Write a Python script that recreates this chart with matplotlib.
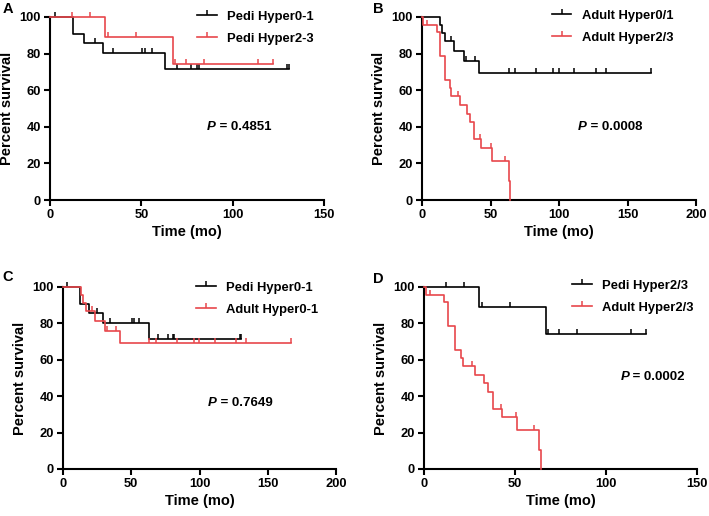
import matplotlib
matplotlib.use('Agg')
import matplotlib.pyplot as plt
from matplotlib.path import Path
from matplotlib.lines import Line2D
import numpy as np

plt.rcParams['font.family'] = ['Liberation Sans', 'DejaVu Sans']

BLACK = '#000000'
RED = '#e8474c'

# Kaplan-Meier curves (time in months, survival in %)
pedi01_t = [12.8, 18.8, 29.2, 63.0]
pedi01_s = [90.5, 85.7, 80.4, 71.5]
pedi01_cens = [2.7, 24.6, 34.7, 50.5, 52.0, 55.7, 69.3, 77.0, 80.3, 81.6, 129.6, 130.7]
pedi01_end = 130.7

pedi23_t = [30.2, 67.3]
pedi23_s = [88.9, 74.1]
pedi23_cens = [12.2, 21.8, 32.0, 47.2, 68.2, 74.2, 84.1, 114.0, 122.0]
pedi23_end = 122.0

adult01_t = [13.2, 14.8, 16.8, 23.6, 30.8, 41.8]
adult01_s = [95.7, 91.3, 86.9, 81.5, 75.7, 69.3]
adult01_cens = [21.0, 32.0, 39.0, 63.3, 68.1, 83.2, 95.6, 99.8, 111.0, 127.0, 134.0, 167.0]
adult01_end = 167.0

adult23_t = [0.9, 11.2, 13.0, 17.0, 20.1, 21.2, 28.0, 33.2, 35.3, 38.1, 42.7, 51.3, 63.2, 64.3]
adult23_s = [95.8, 91.6, 78.5, 65.4, 61.0, 56.6, 51.9, 47.2, 42.5, 33.1, 28.4, 21.3, 10.6, 0.0]
adult23_cens = [3.3, 26.2, 42.1, 50.4, 60.4]
adult23_end = 64.3

pvals = ['0.4851', '0.0008', '0.7649', '0.0002']

# censor tick: short vertical line pointing up from the curve
tick_marker = Path([(0, 0), (0, 1)], [Path.MOVETO, Path.LINETO])


def km(ax, t, s, cens, end, color):
    xs = np.concatenate([[0], t, [end]])
    ys = np.concatenate([[100], s, [s[-1]]])
    ax.step(xs, ys, where='post', color=color, lw=1.2, clip_on=False, zorder=3)
    idx = np.searchsorted(t, cens, side='right')
    cy = np.concatenate([[100], s])[idx]
    ax.plot(cens, cy, ls='none', marker=tick_marker, ms=7, mew=1.1,
            mec=color, color=color, clip_on=False, zorder=3)


def style(ax, xmax, panel, ptxt, pxy, labels, colors, legxy):
    ax.set_xlim(0, xmax)
    ax.set_ylim(0, 100)
    ax.set_xticks(np.arange(0, xmax + 1, 50))
    ax.set_yticks(np.arange(0, 101, 20))
    for sp in ['top', 'right']:
        ax.spines[sp].set_visible(False)
    for sp in ['left', 'bottom']:
        ax.spines[sp].set_linewidth(1.5)
    ax.tick_params(width=1.5, length=4.5, labelsize=9.3, pad=2)
    for lab in ax.get_xticklabels() + ax.get_yticklabels():
        lab.set_fontweight('bold')
    ax.set_xlabel('Time (mo)', fontsize=10.5, fontweight='bold', labelpad=3)
    ax.set_ylabel('Percent survival', fontsize=10.5, fontweight='bold', labelpad=4)
    t1 = ax.text(pxy[0], pxy[1], 'P', fontsize=9.5, fontweight='bold',
                 fontstyle='italic', va='center', ha='left')
    ax.annotate(' = ' + ptxt, xy=(1, 0), xycoords=t1, va='bottom', ha='left',
                fontsize=9.5, fontweight='bold')
    handles = [Line2D([], [], color=c, lw=1.2, marker=tick_marker, ms=7, mew=1.1, mec=c)
               for c in colors]
    ax.legend(handles, labels, loc='upper left', bbox_to_anchor=legxy, frameon=False,
              prop={'size': 9.4, 'weight': 'bold'}, handlelength=1.5, handletextpad=0.8,
              labelspacing=0.75, borderpad=0, borderaxespad=0, numpoints=1)
    ax.figure.text(*panel[1:], panel[0], fontsize=10.5, fontweight='bold', va='top', ha='left')


fig = plt.figure(figsize=(7.09, 5.16), dpi=100)

axA = fig.add_axes([0.0705, 0.6124, 0.3865, 0.3547])
km(axA, pedi01_t, pedi01_s, pedi01_cens, pedi01_end, BLACK)
km(axA, pedi23_t, pedi23_s, pedi23_cens, pedi23_end, RED)
style(axA, 150, ('A', 0.004, 0.997), pvals[0], (86, 40),
      ['Pedi Hyper0-1', 'Pedi Hyper2-3'], [BLACK, RED], (0.537, 1.035))

axB = fig.add_axes([0.5952, 0.6124, 0.3865, 0.3547])
km(axB, adult01_t, adult01_s, adult01_cens, adult01_end, BLACK)
km(axB, adult23_t, adult23_s, adult23_cens, adult23_end, RED)
style(axB, 200, ('B', 0.526, 0.997), pvals[1], (114, 40),
      ['Adult Hyper0/1', 'Adult Hyper2/3'], [BLACK, RED], (0.474, 1.04))

axC = fig.add_axes([0.0889, 0.0911, 0.385, 0.3527])
km(axC, pedi01_t, pedi01_s, pedi01_cens, pedi01_end, BLACK)
km(axC, adult01_t, adult01_s, adult01_cens, adult01_end, RED)
style(axC, 200, ('C', 0.004, 0.477), pvals[2], (106, 36),
      ['Pedi Hyper0-1', 'Adult Hyper0-1'], [BLACK, RED], (0.487, 1.03))

axD = fig.add_axes([0.598, 0.0911, 0.385, 0.3527])
km(axD, pedi23_t, pedi23_s, pedi23_cens, pedi23_end, BLACK)
km(axD, adult23_t, adult23_s, adult23_cens, adult23_end, RED)
style(axD, 150, ('D', 0.526, 0.473), pvals[3], (108, 50.5),
      ['Pedi Hyper2/3', 'Adult Hyper2/3'], [BLACK, RED], (0.542, 1.04))

fig.savefig('out.png', dpi=100)
